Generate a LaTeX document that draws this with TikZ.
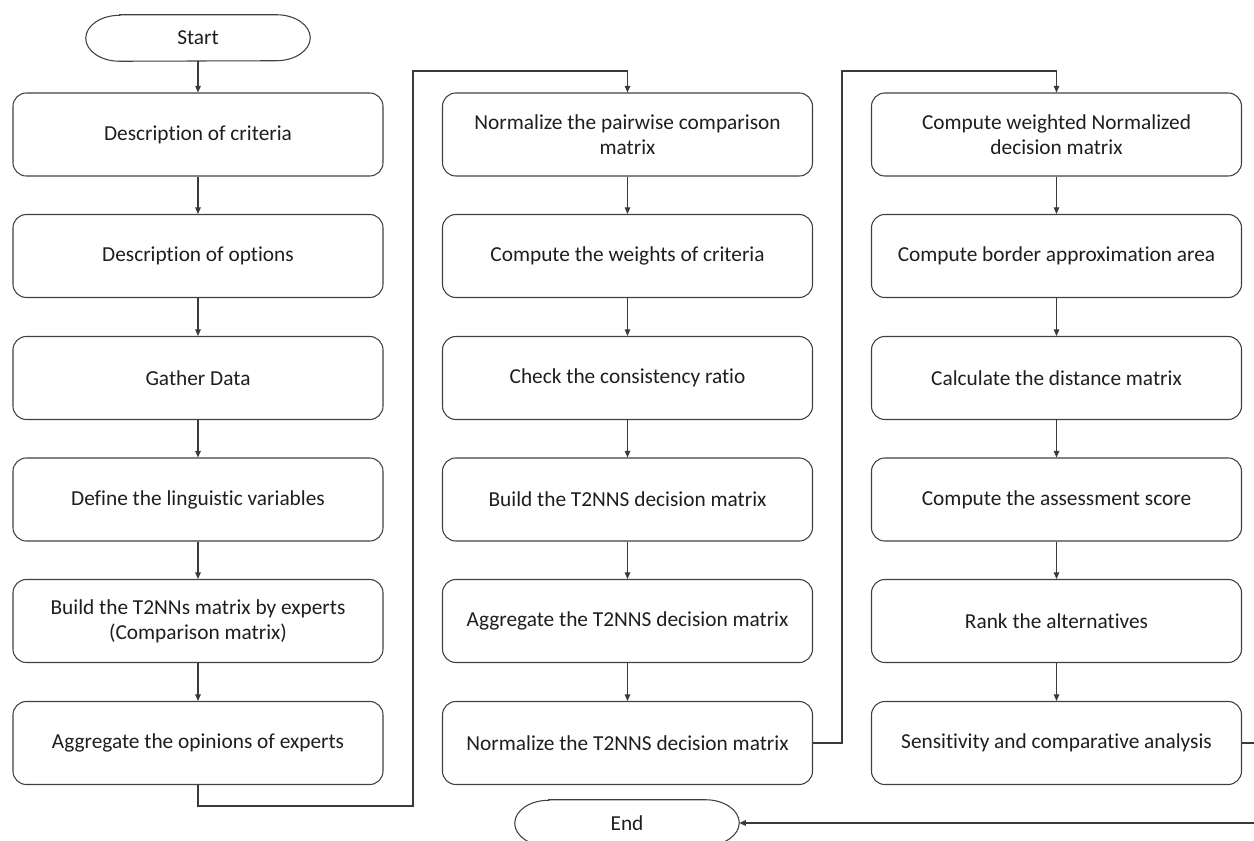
\documentclass[tikz,border=0pt]{standalone}
\usepackage{fontspec}
\setmainfont{Carlito}[Ligatures={NoCommon}]
\usetikzlibrary{arrows.meta,calc}
\definecolor{boxline}{HTML}{404040}
\definecolor{conline}{HTML}{3A3A3A}
\definecolor{txt}{HTML}{1E1E1E}
\tikzset{
  stepbox/.style={draw=boxline, line width=0.8pt, rounded corners=10pt,
    minimum width=277.5pt, minimum height=62.25pt, inner sep=0pt,
    align=center, text=txt, font=\fontsize{16}{18.8}\selectfont},
  termnode/.style={minimum width=168pt, minimum height=34.5pt, inner sep=0pt,
    text=txt, font=\fontsize{16}{18.8}\selectfont},
  termline/.style={draw=boxline, line width=0.8pt},
  conn/.style={draw=conline, line width=0.8pt},
  arr/.style={conn, -{Triangle[length=5pt,width=4.2pt]}},
}
\newcommand{\terminal}[1]{%
  \draw[termline] ([xshift=25.5pt]#1.north west) -- ([xshift=-25.5pt]#1.north east)
    arc[start angle=90,end angle=-90,x radius=25.5pt,y radius=17.25pt]
    -- ([xshift=25.5pt]#1.south west)
    arc[start angle=270,end angle=90,x radius=25.5pt,y radius=17.25pt] -- cycle;}
\begin{document}
\begin{tikzpicture}[x=0.75pt,y=-0.75pt]
\useasboundingbox (0,0) rectangle (1254,841);
% terminals
\node[termnode] (start) at (198,38) {Start};
\terminal{start}
\node[termnode] (end) at (627,823) {End};
\terminal{end}
% column 1
\node[stepbox] (a1) at (198,134.5) {Description of criteria};
\node[stepbox] (a2) at (198,256) {Description of options};
\node[stepbox] (a3) at (198,378) {Gather Data};
\node[stepbox] (a4) at (198,499.5) {Define the linguistic variables};
\node[stepbox] (a5) at (198,621) {Build the T2NNs matrix by experts\\(Comparison matrix)};
\node[stepbox] (a6) at (198,743) {Aggregate the opinions of experts};
% column 2
\node[stepbox] (b1) at (627.5,134.5) {Normalize the pairwise comparison\\matrix};
\node[stepbox] (b2) at (627.5,256) {Compute the weights of criteria};
\node[stepbox] (b3) at (627.5,378) {Check the consistency ratio};
\node[stepbox] (b4) at (627.5,499.5) {Build the T2NNS decision matrix};
\node[stepbox] (b5) at (627.5,621) {Aggregate the T2NNS decision matrix};
\node[stepbox] (b6) at (627.5,743) {Normalize the T2NNS decision matrix};
% column 3
\node[stepbox] (c1) at (1056.5,134.5) {Compute weighted Normalized\\decision matrix};
\node[stepbox] (c2) at (1056.5,256) {Compute border approximation area};
\node[stepbox] (c3) at (1056.5,378) {Calculate the distance matrix};
\node[stepbox] (c4) at (1056.5,499.5) {Compute the assessment score};
\node[stepbox] (c5) at (1056.5,621) {Rank the alternatives};
\node[stepbox] (c6) at (1056.5,743) {Sensitivity and comparative analysis};
% connector corner points
\coordinate (p1) at (198,806);
\coordinate (p2) at (413,806);
\coordinate (p3) at (413,71);
\coordinate (p4) at (627.5,71);
\coordinate (q1) at (842,743);
\coordinate (q2) at (842,71);
\coordinate (q3) at (1056.5,71);
\coordinate (r1) at (1270,743);
\coordinate (r2) at (1270,823);
% connectors
\draw[arr] (start.south) -- (a1.north);
\draw[arr] (a1) -- (a2);
\draw[arr] (a2) -- (a3);
\draw[arr] (a3) -- (a4);
\draw[arr] (a4) -- (a5);
\draw[arr] (a5) -- (a6);
\draw[arr] (a6.south) -- (p1) -- (p2) -- (p3) -- (p4) -- (b1.north);
\draw[arr] (b1) -- (b2);
\draw[arr] (b2) -- (b3);
\draw[arr] (b3) -- (b4);
\draw[arr] (b4) -- (b5);
\draw[arr] (b5) -- (b6);
\draw[arr] (b6.east) -- (q1) -- (q2) -- (q3) -- (c1.north);
\draw[arr] (c1) -- (c2);
\draw[arr] (c2) -- (c3);
\draw[arr] (c3) -- (c4);
\draw[arr] (c4) -- (c5);
\draw[arr] (c5) -- (c6);
\draw[arr] (c6.east) -- (r1) -- (r2) -- (end.east);
\end{tikzpicture}
\end{document}
